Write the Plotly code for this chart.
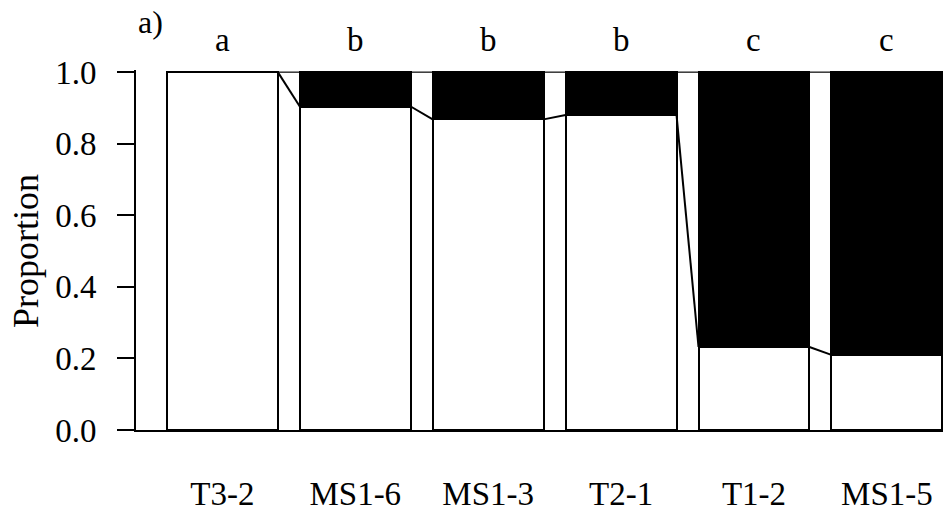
import plotly.graph_objects as go

categories = ["T3-2", "MS1-6", "MS1-3", "T2-1", "T1-2", "MS1-5"]
white_prop = [1.0, 0.904, 0.868, 0.880, 0.232, 0.210]
groups = ["a", "b", "b", "b", "c", "c"]
y_ticks = [0.0, 0.2, 0.4, 0.6, 0.8, 1.0]
y_ticktext = ["0.0", "0.2", "0.4", "0.6", "0.8", "1.0"]
panel_label = "a)"
y_title = "Proportion"

FONT = "Liberation Serif, Times New Roman, serif"
FS = 33
W = 0.8346
LW = 2
x = list(range(len(categories)))
black_prop = [1 - p for p in white_prop]

fig = go.Figure()
fig.add_trace(go.Bar(x=x, y=white_prop, base=[0] * len(x), width=W,
                     marker=dict(color="white", line=dict(color="black", width=LW)),
                     showlegend=False, hoverinfo="skip"))
fig.add_trace(go.Bar(x=x, y=black_prop, base=white_prop, width=W,
                     marker=dict(color="black", line=dict(color="black", width=LW)),
                     showlegend=False, hoverinfo="skip"))

# connecting lines in gaps
for i in range(len(x) - 1):
    xr = x[i] + W / 2
    xl = x[i + 1] - W / 2
    fig.add_trace(go.Scatter(x=[xr, xl], y=[white_prop[i], white_prop[i + 1]], mode="lines",
                             line=dict(color="black", width=LW), showlegend=False, hoverinfo="skip"))
    fig.add_trace(go.Scatter(x=[xr, xl], y=[1, 1], mode="lines",
                             line=dict(color="black", width=1.2), showlegend=False, hoverinfo="skip"))

for xi, g in zip(x, groups):
    fig.add_annotation(x=xi, y=1, xref="x", yref="y", text=g, showarrow=False,
                       yshift=32, font=dict(family=FONT, size=FS, color="black"))

PL, PR, PT, PB = 136, 6, 70, 76
PW, PH = 949 - PL - PR, 518 - PT - PB

fig.add_annotation(x=(150 - PL) / PW, y=1 + (PT - 20) / PH, xref="paper", yref="paper",
                   xanchor="center", yanchor="middle", text=panel_label, showarrow=False,
                   font=dict(family=FONT, size=32, color="black"))

fig.add_annotation(x=-(PL - 26) / PW, y=(442 - 257) / PH, xref="paper", yref="paper",
                   xanchor="center", yanchor="middle",
                   text=y_title, textangle=-90, showarrow=False,
                   font=dict(family=FONT, size=36, color="black"))

fig.update_layout(
    width=949, height=518,
    margin=dict(l=PL, r=PR, t=PT, b=PB),
    paper_bgcolor="white", plot_bgcolor="white",
    barmode="overlay", bargap=0,
    font=dict(family=FONT, size=FS, color="black"),
    xaxis=dict(range=[-0.65, len(x) - 1 + W / 2 + 0.005], tickvals=x, ticktext=categories,
               showline=True, linecolor="black", linewidth=2, ticks="", showgrid=False,
               zeroline=False, ticklabelstandoff=33, tickfont=dict(family=FONT, size=FS)),
    yaxis=dict(range=[0, 1.006], tickvals=y_ticks, ticktext=y_ticktext,
               showline=True, linecolor="black", linewidth=2, ticks="outside",
               ticklen=17, tickwidth=2, tickcolor="black", showgrid=False, zeroline=False,
               ticklabelstandoff=14, tickfont=dict(family=FONT, size=FS)),
)

fig.write_html("out.html")
